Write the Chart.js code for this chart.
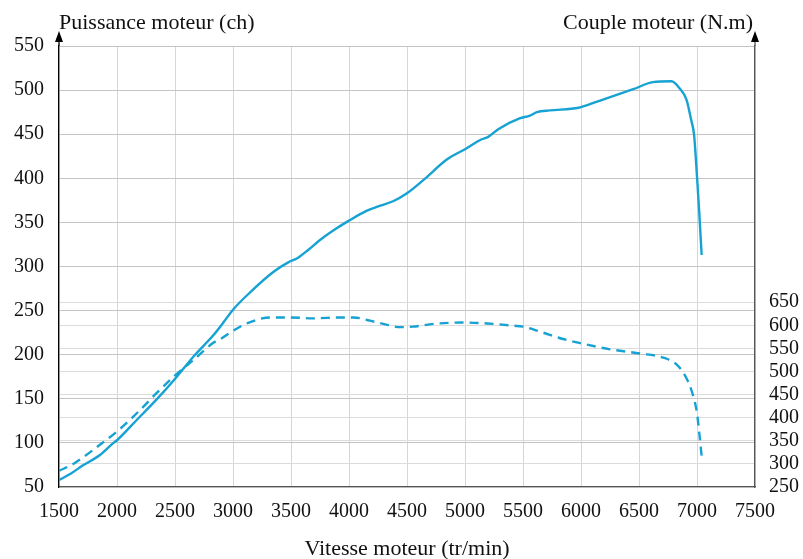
<!DOCTYPE html>
<html>
<head>
<meta charset="utf-8">
<script src="https://cdn.jsdelivr.net/npm/chart.js@4"></script>
<style>
  html, body { margin: 0; padding: 0; background: #fff; }
  #wrap { width: 803px; height: 559px; position: relative; }
</style>
</head>
<body>
<div id="wrap"><canvas id="chart" width="803" height="559"></canvas></div>
<script>
// --- DATA ---
const powerRpm = [1500, 1600, 1700, 1850, 1970, 2000, 2170, 2340, 2490, 2660, 2830, 2920, 3000, 3150, 3350, 3480, 3550, 3650, 3750, 3890, 4000, 4150, 4270, 4380, 4500, 4650, 4840, 5000, 5140, 5200, 5290, 5470, 5560, 5620, 5730, 5980, 6140, 6450, 6620, 6780, 6850, 6910, 6950, 6975, 7000, 7020, 7040];
const powerCh = [58, 65, 74, 86, 100, 103, 126, 149, 171, 198, 222, 237, 251, 271, 294, 305, 309, 319, 330, 343, 352, 363, 369, 374, 383, 399, 421, 433, 444, 447, 456, 468, 471, 475, 477, 480, 487, 501, 509, 510, 502, 489, 466, 449, 402, 360, 313];

const torqueRpm = [1500, 1630, 1850, 2000, 2200, 2340, 2490, 2660, 2830, 2890, 3000, 3120, 3320, 3490, 3690, 3920, 4040, 4180, 4330, 4440, 4550, 4730, 4990, 5190, 5420, 5500, 5650, 5820, 6000, 6250, 6510, 6710, 6830, 6910, 6960, 7000, 7020, 7040];
const torqueNm = [285, 301, 341, 370, 417, 453, 489, 525, 562, 570, 588, 604, 617, 617, 615, 617, 617, 610, 601, 596, 597, 603, 606, 604, 599, 597, 586, 572, 561, 548, 539, 530, 514, 485, 453, 410, 366, 317];

const powerTicks = [50, 100, 150, 200, 250, 300, 350, 400, 450, 500, 550];
const torqueTicks = [250, 300, 350, 400, 450, 500, 550, 600, 650];
const rpmTicks = [1500, 2000, 2500, 3000, 3500, 4000, 4500, 5000, 5500, 6000, 6500, 7000, 7500];

const titleLeft = 'Puissance moteur (ch)';
const titleRight = 'Couple moteur (N.m)';
const titleX = 'Vitesse moteur (tr/min)';

const LINE = '#16a2d2';
const FONT = '"Liberation Serif", "Times New Roman", serif';

// titles and axis arrows
const decorations = {
    id: 'decorations',
    afterDraw(chart) {
        const ctx = chart.ctx;
        const a = chart.chartArea;
        ctx.save();
        ctx.fillStyle = '#111';
        ctx.font = '22px ' + FONT;
        ctx.textBaseline = 'alphabetic';
        ctx.textAlign = 'left';
        ctx.fillText(titleLeft, a.left, 29);
        ctx.textAlign = 'right';
        ctx.fillText(titleRight, a.right - 2, 29);
        ctx.textAlign = 'center';
        ctx.fillText(titleX, (a.left + a.right) / 2, 555);

        // axis extensions + arrow heads
        [[a.left, '#000'], [a.right, '#555']].forEach(([x, col]) => {
            ctx.strokeStyle = col;
            ctx.lineWidth = 1.3;
            ctx.beginPath();
            ctx.moveTo(x, a.top);
            ctx.lineTo(x, 40);
            ctx.stroke();
            ctx.fillStyle = '#000';
            ctx.beginPath();
            ctx.moveTo(x, 31);
            ctx.lineTo(x - 4, 42);
            ctx.lineTo(x + 4, 42);
            ctx.closePath();
            ctx.fill();
        });
        ctx.restore();
    }
};

const pts = (xs, ys) => xs.map((x, i) => ({ x, y: ys[i] }));
const plain = v => String(v);

new Chart(document.getElementById('chart').getContext('2d'), {
    type: 'line',
    data: {
        datasets: [
            { label: 'Puissance', data: pts(powerRpm, powerCh), yAxisID: 'y', borderColor: LINE, borderWidth: 2.4, pointRadius: 0, cubicInterpolationMode: 'monotone', fill: false },
            { label: 'Couple', data: pts(torqueRpm, torqueNm), yAxisID: 'y1', borderColor: LINE, borderWidth: 2.4, borderDash: [9, 6], pointRadius: 0, cubicInterpolationMode: 'monotone', fill: false }
        ]
    },
    options: {
        responsive: false,
        animation: false,
        layout: { padding: { top: 46, left: 0, right: 0, bottom: 0 } },
        plugins: { legend: { display: false }, tooltip: { enabled: false } },
        scales: {
            x: {
                type: 'linear', min: 1500, max: 7500,
                afterBuildTicks: s => { s.ticks = rpmTicks.map(v => ({ value: v })); },
                afterFit: s => { s.height = 72; },
                ticks: { padding: 13, color: '#111', font: { family: FONT, size: 20 }, maxRotation: 0, autoSkip: false, callback: plain },
                grid: { color: '#d6d6d6', lineWidth: 1, drawTicks: false },
                border: { color: '#555', width: 1.3 }
            },
            y: {
                position: 'left', min: 50, max: 550,
                afterBuildTicks: s => { s.ticks = powerTicks.map(v => ({ value: v })); },
                afterFit: s => { s.width = 59; },
                ticks: { padding: 15, color: '#111', font: { family: FONT, size: 20 }, autoSkip: false, callback: plain },
                grid: { color: '#c4c4c4', lineWidth: 1, drawTicks: false },
                border: { color: '#000', width: 1.3 }
            },
            y1: {
                position: 'right', min: 250, max: 1204.5,
                afterBuildTicks: s => { s.ticks = torqueTicks.map(v => ({ value: v })); },
                afterFit: s => { s.width = 48; },
                ticks: { padding: 14, color: '#111', font: { family: FONT, size: 20 }, autoSkip: false, callback: plain },
                grid: { color: '#dcdcdc', lineWidth: 1, drawTicks: false },
                border: { color: '#555', width: 1.3 }
            }
        }
    },
    plugins: [decorations]
});
</script>
</body>
</html>
